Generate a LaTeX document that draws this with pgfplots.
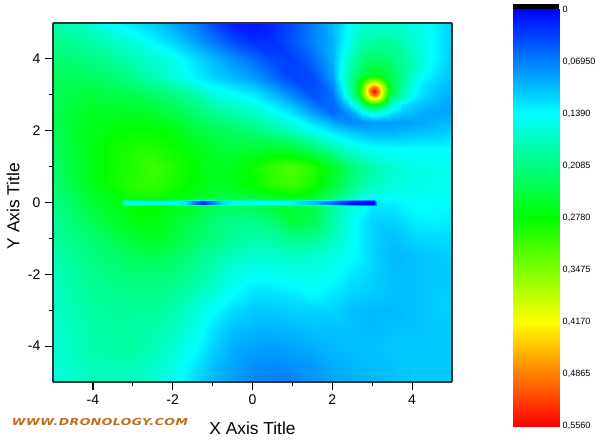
\documentclass[border=0pt]{standalone}
\usepackage{fontspec}
\setmainfont{Liberation Sans}
\newfontfamily\wwwfont[FakeStretch=1.3,LetterSpace=5]{DejaVu Sans}
\usepackage{pgfplots}
\pgfplotsset{compat=1.18}
\definecolor{wwwcolor}{RGB}{190,110,30}
\pgfplotsset{
    dronmap/.style={
        colormap={dron}{rgb255(0)=(0,0,255) rgb255(1)=(0,255,255) rgb255(2)=(0,255,0) rgb255(3)=(255,255,0) rgb255(4)=(255,0,0)},
        point meta min=0, point meta max=0.556,
    },
}

\begin{document}
\begin{tikzpicture}[x=0.75pt,y=0.75pt]
\useasboundingbox (-53,-62) rectangle (547,382);

\begin{axis}[
    at={(0pt,0pt)}, anchor=south west,
    scale only axis,
    width=299.25pt, height=269.25pt,
    view={0}{90},
    dronmap,
    xmin=-5, xmax=5, ymin=-5, ymax=5,
    xtick={-4,-2,0,2,4}, ytick={-4,-2,0,2,4},
    minor tick num=1,
    tick align=outside,
    xtick pos=lower, ytick pos=left,
    major tick length=6pt, minor tick length=3pt,
    tick style={black, line width=0.9pt},
    axis line style={line width=1pt, black!80},
    axis on top,
    tick label style={font=\fontsize{10.5}{12}\selectfont, /pgf/number format/assume math mode=true},
    xlabel={X Axis Title}, ylabel={Y Axis Title},
    label style={font=\fontsize{13}{15}\selectfont},
    xlabel style={at={(axis description cs:0.5,-0.128)}, anchor=center},
    ylabel style={at={(axis description cs:-0.10,0.49)}, anchor=center},
]
% background field, 0.5 grid
\addplot3[surf, shader=interp, mesh/cols=21] coordinates {
(-5,5,.185)(-4.5,5,.175)(-4,5,.16)(-3.5,5,.14)(-3,5,.125)(-2.5,5,.11)(-2,5,.09)(-1.5,5,.07)(-1,5,.04)(-.5,5,.015)(0,5,.01)(.5,5,.02)(1,5,.04)(1.5,5,.07)(2,5,.10)(2.5,5,.145)(3,5,.165)(3.5,5,.165)(4,5,.15)(4.5,5,.135)(5,5,.115)
(-5,4.5,.20)(-4.5,4.5,.195)(-4,4.5,.185)(-3.5,4.5,.17)(-3,4.5,.155)(-2.5,4.5,.135)(-2,4.5,.115)(-1.5,4.5,.09)(-1,4.5,.065)(-.5,4.5,.04)(0,4.5,.025)(.5,4.5,.025)(1,4.5,.045)(1.5,4.5,.07)(2,4.5,.095)(2.5,4.5,.16)(3,4.5,.19)(3.5,4.5,.19)(4,4.5,.165)(4.5,4.5,.137)(5,4.5,.11)
(-5,4,.215)(-4.5,4,.215)(-4,4,.205)(-3.5,4,.195)(-3,4,.18)(-2.5,4,.165)(-2,4,.15)(-1.5,4,.125)(-1,4,.10)(-.5,4,.08)(0,4,.06)(.5,4,.04)(1,4,.035)(1.5,4,.055)(2,4,.095)(2.5,4,.18)(3,4,.225)(3.5,4,.21)(4,4,.175)(4.5,4,.14)(5,4,.11)
(-5,3.5,.225)(-4.5,3.5,.23)(-4,3.5,.225)(-3.5,3.5,.215)(-3,3.5,.20)(-2.5,3.5,.18)(-2,3.5,.16)(-1.5,3.5,.135)(-1,3.5,.115)(-.5,3.5,.10)(0,3.5,.085)(.5,3.5,.06)(1,3.5,.035)(1.5,3.5,.04)(2,3.5,.085)(2.5,3.5,.20)(3,3.5,.265)(3.5,3.5,.235)(4,3.5,.17)(4.5,3.5,.125)(5,3.5,.105)
(-5,3,.23)(-4.5,3,.24)(-4,3,.245)(-3.5,3,.24)(-3,3,.235)(-2.5,3,.225)(-2,3,.21)(-1.5,3,.19)(-1,3,.16)(-.5,3,.145)(0,3,.13)(.5,3,.105)(1,3,.075)(1.5,3,.045)(2,3,.06)(2.5,3,.20)(3,3,.31)(3.5,3,.235)(4,3,.14)(4.5,3,.11)(5,3,.095)
(-5,2.5,.235)(-4.5,2.5,.25)(-4,2.5,.26)(-3.5,2.5,.26)(-3,2.5,.26)(-2.5,2.5,.255)(-2,2.5,.24)(-1.5,2.5,.22)(-1,2.5,.20)(-.5,2.5,.185)(0,2.5,.17)(.5,2.5,.15)(1,2.5,.125)(1.5,2.5,.09)(2,2.5,.06)(2.5,2.5,.09)(3,2.5,.155)(3.5,2.5,.12)(4,2.5,.10)(4.5,2.5,.09)(5,2.5,.09)
(-5,2,.23)(-4.5,2,.25)(-4,2,.265)(-3.5,2,.275)(-3,2,.28)(-2.5,2,.28)(-2,2,.27)(-1.5,2,.25)(-1,2,.235)(-.5,2,.225)(0,2,.215)(.5,2,.195)(1,2,.175)(1.5,2,.15)(2,2,.125)(2.5,2,.105)(3,2,.095)(3.5,2,.095)(4,2,.10)(4.5,2,.105)(5,2,.115)
(-5,1.5,.225)(-4.5,1.5,.25)(-4,1.5,.27)(-3.5,1.5,.285)(-3,1.5,.295)(-2.5,1.5,.295)(-2,1.5,.285)(-1.5,1.5,.27)(-1,1.5,.255)(-.5,1.5,.245)(0,1.5,.25)(.5,1.5,.255)(1,1.5,.25)(1.5,1.5,.225)(2,1.5,.19)(2.5,1.5,.16)(3,1.5,.145)(3.5,1.5,.14)(4,1.5,.14)(4.5,1.5,.14)(5,1.5,.14)
(-5,1,.22)(-4.5,1,.245)(-4,1,.27)(-3.5,1,.285)(-3,1,.295)(-2.5,1,.31)(-2,1,.295)(-1.5,1,.28)(-1,1,.26)(-.5,1,.265)(0,1,.285)(.5,1,.305)(1,1,.32)(1.5,1,.30)(2,1,.26)(2.5,1,.215)(3,1,.185)(3.5,1,.165)(4,1,.155)(4.5,1,.15)(5,1,.145)
(-5,.5,.215)(-4.5,.5,.24)(-4,.5,.265)(-3.5,.5,.285)(-3,.5,.30)(-2.5,.5,.305)(-2,.5,.29)(-1.5,.5,.275)(-1,.5,.26)(-.5,.5,.265)(0,.5,.28)(.5,.5,.30)(1,.5,.31)(1.5,.5,.29)(2,.5,.25)(2.5,.5,.205)(3,.5,.175)(3.5,.5,.16)(4,.5,.155)(4.5,.5,.15)(5,.5,.145)
(-5,0,.205)(-4.5,0,.225)(-4,0,.25)(-3.5,0,.265)(-3,0,.28)(-2.5,0,.28)(-2,0,.27)(-1.5,0,.26)(-1,0,.24)(-.5,0,.235)(0,0,.24)(.5,0,.25)(1,0,.25)(1.5,0,.24)(2,0,.20)(2.5,0,.165)(3,0,.13)(3.5,0,.13)(4,0,.14)(4.5,0,.14)(5,0,.14)
(-5,-.5,.195)(-4.5,-.5,.215)(-4,-.5,.235)(-3.5,-.5,.255)(-3,-.5,.27)(-2.5,-.5,.275)(-2,-.5,.255)(-1.5,-.5,.235)(-1,-.5,.215)(-.5,-.5,.205)(0,-.5,.205)(.5,-.5,.22)(1,-.5,.25)(1.5,-.5,.235)(2,-.5,.19)(2.5,-.5,.145)(3,-.5,.115)(3.5,-.5,.115)(4,-.5,.13)(4.5,-.5,.135)(5,-.5,.13)
(-5,-1,.19)(-4.5,-1,.205)(-4,-1,.22)(-3.5,-1,.235)(-3,-1,.25)(-2.5,-1,.26)(-2,-1,.245)(-1.5,-1,.225)(-1,-1,.21)(-.5,-1,.195)(0,-1,.185)(.5,-1,.19)(1,-1,.205)(1.5,-1,.20)(2,-1,.175)(2.5,-1,.145)(3,-1,.115)(3.5,-1,.105)(4,-1,.115)(4.5,-1,.12)(5,-1,.12)
(-5,-1.5,.18)(-4.5,-1.5,.195)(-4,-1.5,.21)(-3.5,-1.5,.22)(-3,-1.5,.23)(-2.5,-1.5,.235)(-2,-1.5,.225)(-1.5,-1.5,.21)(-1,-1.5,.19)(-.5,-1.5,.175)(0,-1.5,.165)(.5,-1.5,.165)(1,-1.5,.17)(1.5,-1.5,.165)(2,-1.5,.155)(2.5,-1.5,.14)(3,-1.5,.115)(3.5,-1.5,.10)(4,-1.5,.105)(4.5,-1.5,.11)(5,-1.5,.115)
(-5,-2,.175)(-4.5,-2,.19)(-4,-2,.20)(-3.5,-2,.21)(-3,-2,.215)(-2.5,-2,.215)(-2,-2,.21)(-1.5,-2,.195)(-1,-2,.175)(-.5,-2,.155)(0,-2,.145)(.5,-2,.145)(1,-2,.15)(1.5,-2,.15)(2,-2,.145)(2.5,-2,.125)(3,-2,.115)(3.5,-2,.105)(4,-2,.105)(4.5,-2,.11)(5,-2,.11)
(-5,-2.5,.17)(-4.5,-2.5,.185)(-4,-2.5,.195)(-3.5,-2.5,.20)(-3,-2.5,.205)(-2.5,-2.5,.205)(-2,-2.5,.195)(-1.5,-2.5,.18)(-1,-2.5,.165)(-.5,-2.5,.14)(0,-2.5,.125)(.5,-2.5,.125)(1,-2.5,.13)(1.5,-2.5,.14)(2,-2.5,.13)(2.5,-2.5,.115)(3,-2.5,.11)(3.5,-2.5,.105)(4,-2.5,.105)(4.5,-2.5,.11)(5,-2.5,.11)
(-5,-3,.17)(-4.5,-3,.18)(-4,-3,.19)(-3.5,-3,.195)(-3,-3,.195)(-2.5,-3,.195)(-2,-3,.185)(-1.5,-3,.165)(-1,-3,.14)(-.5,-3,.12)(0,-3,.11)(.5,-3,.11)(1,-3,.115)(1.5,-3,.115)(2,-3,.115)(2.5,-3,.105)(3,-3,.10)(3.5,-3,.10)(4,-3,.105)(4.5,-3,.11)(5,-3,.115)
(-5,-3.5,.165)(-4.5,-3.5,.175)(-4,-3.5,.185)(-3.5,-3.5,.19)(-3,-3.5,.19)(-2.5,-3.5,.185)(-2,-3.5,.175)(-1.5,-3.5,.155)(-1,-3.5,.125)(-.5,-3.5,.105)(0,-3.5,.10)(.5,-3.5,.10)(1,-3.5,.10)(1.5,-3.5,.105)(2,-3.5,.105)(2.5,-3.5,.105)(3,-3.5,.10)(3.5,-3.5,.105)(4,-3.5,.105)(4.5,-3.5,.11)(5,-3.5,.11)
(-5,-4,.165)(-4.5,-4,.175)(-4,-4,.185)(-3.5,-4,.19)(-3,-4,.19)(-2.5,-4,.18)(-2,-4,.165)(-1.5,-4,.145)(-1,-4,.115)(-.5,-4,.095)(0,-4,.09)(.5,-4,.085)(1,-4,.09)(1.5,-4,.095)(2,-4,.10)(2.5,-4,.105)(3,-4,.105)(3.5,-4,.11)(4,-4,.11)(4.5,-4,.11)(5,-4,.11)
(-5,-4.5,.16)(-4.5,-4.5,.17)(-4,-4.5,.18)(-3.5,-4.5,.18)(-3,-4.5,.18)(-2.5,-4.5,.17)(-2,-4.5,.155)(-1.5,-4.5,.13)(-1,-4.5,.105)(-.5,-4.5,.09)(0,-4.5,.08)(.5,-4.5,.075)(1,-4.5,.08)(1.5,-4.5,.085)(2,-4.5,.095)(2.5,-4.5,.10)(3,-4.5,.105)(3.5,-4.5,.105)(4,-4.5,.11)(4.5,-4.5,.11)(5,-4.5,.11)
(-5,-5,.155)(-4.5,-5,.165)(-4,-5,.17)(-3.5,-5,.175)(-3,-5,.17)(-2.5,-5,.16)(-2,-5,.145)(-1.5,-5,.12)(-1,-5,.10)(-.5,-5,.085)(0,-5,.075)(.5,-5,.07)(1,-5,.07)(1.5,-5,.08)(2,-5,.09)(2.5,-5,.095)(3,-5,.10)(3.5,-5,.105)(4,-5,.11)(4.5,-5,.11)(5,-5,.11)
};
% egg round the peak, 0.25 grid
\addplot3[surf, shader=interp, mesh/cols=13] coordinates {
(2,5,.10)(2.25,5,.12)(2.5,5,.145)(2.75,5,.16)(3,5,.165)(3.25,5,.165)(3.5,5,.165)(3.75,5,.16)(4,5,.152)(4.25,5,.147)(4.5,5,.135)(4.75,5,.125)(5,5,.115)
(2,4.75,.10)(2.25,4.75,.125)(2.5,4.75,.155)(2.75,4.75,.17)(3,4.75,.175)(3.25,4.75,.175)(3.5,4.75,.175)(3.75,4.75,.17)(4,4.75,.16)(4.25,4.75,.152)(4.5,4.75,.138)(4.75,4.75,.125)(5,4.75,.113)
(2,4.5,.095)(2.25,4.5,.125)(2.5,4.5,.16)(2.75,4.5,.18)(3,4.5,.19)(3.25,4.5,.195)(3.5,4.5,.19)(3.75,4.5,.18)(4,4.5,.165)(4.25,4.5,.155)(4.5,4.5,.138)(4.75,4.5,.125)(5,4.5,.11)
(2,4.25,.095)(2.25,4.25,.135)(2.5,4.25,.17)(2.75,4.25,.195)(3,4.25,.205)(3.25,4.25,.205)(3.5,4.25,.20)(3.75,4.25,.19)(4,4.25,.17)(4.25,4.25,.157)(4.5,4.25,.14)(4.75,4.25,.125)(5,4.25,.11)
(2,4,.095)(2.25,4,.14)(2.5,4,.18)(2.75,4,.21)(3,4,.225)(3.25,4,.225)(3.5,4,.21)(3.75,4,.195)(4,4,.175)(4.25,4,.157)(4.5,4,.14)(4.75,4,.125)(5,4,.11)
(2,3.75,.09)(2.25,3.75,.145)(2.5,3.75,.195)(2.75,3.75,.225)(3,3.75,.24)(3.25,3.75,.24)(3.5,3.75,.225)(3.75,3.75,.20)(4,3.75,.18)(4.25,3.75,.155)(4.5,3.75,.135)(4.75,3.75,.12)(5,3.75,.107)
(2,3.5,.085)(2.25,3.5,.15)(2.5,3.5,.20)(2.75,3.5,.24)(3,3.5,.265)(3.25,3.5,.26)(3.5,3.5,.235)(3.75,3.5,.20)(4,3.5,.17)(4.25,3.5,.14)(4.5,3.5,.125)(4.75,3.5,.115)(5,3.5,.105)
(2,3.25,.07)(2.25,3.25,.135)(2.5,3.25,.205)(2.75,3.25,.29)(3,3.25,.30)(3.25,3.25,.31)(3.5,3.25,.24)(3.75,3.25,.195)(4,3.25,.155)(4.25,3.25,.125)(4.5,3.25,.115)(4.75,3.25,.105)(5,3.25,.10)
(2,3,.06)(2.25,3,.12)(2.5,3,.20)(2.75,3,.285)(3,3,.31)(3.25,3,.30)(3.5,3,.235)(3.75,3,.185)(4,3,.14)(4.25,3,.12)(4.5,3,.11)(4.75,3,.10)(5,3,.095)
(2,2.75,.055)(2.25,2.75,.09)(2.5,2.75,.14)(2.75,2.75,.22)(3,2.75,.255)(3.25,2.75,.225)(3.5,2.75,.17)(3.75,2.75,.13)(4,2.75,.115)(4.25,2.75,.105)(4.5,2.75,.10)(4.75,2.75,.095)(5,2.75,.09)
(2,2.5,.06)(2.25,2.5,.07)(2.5,2.5,.09)(2.75,2.5,.13)(3,2.5,.155)(3.25,2.5,.145)(3.5,2.5,.12)(3.75,2.5,.105)(4,2.5,.10)(4.25,2.5,.095)(4.5,2.5,.09)(4.75,2.5,.09)(5,2.5,.09)
(2,2.25,.09)(2.25,2.25,.08)(2.5,2.25,.075)(2.75,2.25,.08)(3,2.25,.085)(3.25,2.25,.085)(3.5,2.25,.085)(3.75,2.25,.085)(4,2.25,.09)(4.25,2.25,.09)(4.5,2.25,.095)(4.75,2.25,.10)(5,2.25,.10)
(2,2,.125)(2.25,2,.115)(2.5,2,.105)(2.75,2,.10)(3,2,.095)(3.25,2,.095)(3.5,2,.095)(3.75,2,.10)(4,2,.10)(4.25,2,.105)(4.5,2,.105)(4.75,2,.11)(5,2,.115)
};
% peak near (3.05,3.1)
\addplot3[surf, shader=interp, mesh/cols=7] coordinates {
(2.65,3.55,.22)(2.85,3.55,.25)(2.95,3.55,.26)(3.05,3.55,.265)(3.15,3.55,.26)(3.25,3.55,.25)(3.45,3.55,.225)
(2.65,3.32,.25)(2.85,3.32,.345)(2.95,3.32,.39)(3.05,3.32,.40)(3.15,3.32,.39)(3.25,3.32,.345)(3.45,3.32,.25)
(2.65,3.21,.26)(2.85,3.21,.39)(2.95,3.21,.46)(3.05,3.21,.50)(3.15,3.21,.46)(3.25,3.21,.39)(3.45,3.21,.26)
(2.65,3.10,.265)(2.85,3.10,.40)(2.95,3.10,.50)(3.05,3.10,.556)(3.15,3.10,.50)(3.25,3.10,.40)(3.45,3.10,.265)
(2.65,2.99,.25)(2.85,2.99,.39)(2.95,2.99,.46)(3.05,2.99,.50)(3.15,2.99,.46)(3.25,2.99,.39)(3.45,2.99,.245)
(2.65,2.88,.21)(2.85,2.88,.345)(2.95,2.88,.39)(3.05,2.88,.40)(3.15,2.88,.39)(3.25,2.88,.345)(3.45,2.88,.215)
(2.65,2.65,.16)(2.85,2.65,.22)(2.95,2.65,.225)(3.05,2.65,.225)(3.15,2.65,.22)(3.25,2.65,.205)(3.45,2.65,.15)
};
% thin streak along y=0
\addplot3[surf, shader=interp, mesh/cols=21] coordinates {
(-3.3,.09,.27)(-3.2,.09,.25)(-2.5,.09,.28)(-2,.09,.27)(-1.7,.09,.26)(-1.5,.09,.25)(-1.25,.09,.24)(-1,.09,.24)(-.75,.09,.235)(-.4,.09,.235)(-.1,.09,.20)(.1,.09,.24)(.5,.09,.25)(1,.09,.25)(1.4,.09,.24)(2,.09,.20)(2.5,.09,.165)(2.9,.09,.135)(3.05,.09,.13)(3.12,.09,.13)(3.2,.09,.13)
(-3.3,.035,.27)(-3.2,.035,.145)(-2.5,.035,.155)(-2,.035,.14)(-1.7,.035,.125)(-1.5,.035,.075)(-1.25,.035,.02)(-1,.035,.07)(-.75,.035,.125)(-.4,.035,.14)(-.1,.035,.15)(.1,.035,.14)(.5,.035,.14)(1,.035,.135)(1.4,.035,.11)(2,.035,.06)(2.5,.035,.01)(2.9,.035,.005)(3.05,.035,.005)(3.12,.035,.13)(3.2,.035,.13)
(-3.3,-.035,.27)(-3.2,-.035,.145)(-2.5,-.035,.155)(-2,-.035,.14)(-1.7,-.035,.125)(-1.5,-.035,.075)(-1.25,-.035,.02)(-1,-.035,.07)(-.75,-.035,.125)(-.4,-.035,.14)(-.1,-.035,.15)(.1,-.035,.14)(.5,-.035,.14)(1,-.035,.135)(1.4,-.035,.11)(2,-.035,.06)(2.5,-.035,.01)(2.9,-.035,.005)(3.05,-.035,.005)(3.12,-.035,.13)(3.2,-.035,.13)
(-3.3,-.09,.27)(-3.2,-.09,.25)(-2.5,-.09,.28)(-2,-.09,.27)(-1.7,-.09,.255)(-1.5,-.09,.25)(-1.25,-.09,.235)(-1,-.09,.235)(-.75,-.09,.23)(-.4,-.09,.23)(-.1,-.09,.235)(.1,-.09,.24)(.5,-.09,.245)(1,-.09,.25)(1.4,-.09,.235)(2,-.09,.20)(2.5,-.09,.16)(2.9,-.09,.13)(3.05,-.09,.125)(3.12,-.09,.125)(3.2,-.09,.125)
};
\end{axis}

% colour scale
\begin{axis}[
    at={(345pt,-33pt)}, anchor=south west,
    scale only axis,
    width=34.5pt, height=312.4pt,
    view={0}{90},
    dronmap,
    clip=false,
    xmin=0, xmax=1, ymin=0, ymax=0.556,
    y dir=reverse,
    hide x axis,
    axis y line*=right,
    axis line style={draw=none},
    ytick={0,0.0695,0.139,0.2085,0.278,0.3475,0.417,0.4865,0.556},
    yticklabels={0,{0,06950},{0,1390},{0,2085},{0,2780},{0,3475},{0,4170},{0,4865},{0,5560}},
    major tick length=0pt,
    yticklabel style={font=\fontsize{6.8}{8}\selectfont, anchor=west, xshift=-0.75pt},
]
\addplot3[surf, shader=interp, mesh/cols=2] coordinates {
(0,0,0)(1,0,0)
(0,.139,.139)(1,.139,.139)
(0,.278,.278)(1,.278,.278)
(0,.417,.417)(1,.417,.417)
(0,.556,.556)(1,.556,.556)
};
\fill[black] (axis description cs:0,1) rectangle (axis description cs:1,1.012);
\end{axis}

\node[text=wwwcolor, font=\wwwfont\bfseries\itshape\fontsize{7.2}{8}\selectfont, anchor=center] at (47,-40) {WWW.DRONOLOGY.COM};
\end{tikzpicture}
\end{document}
